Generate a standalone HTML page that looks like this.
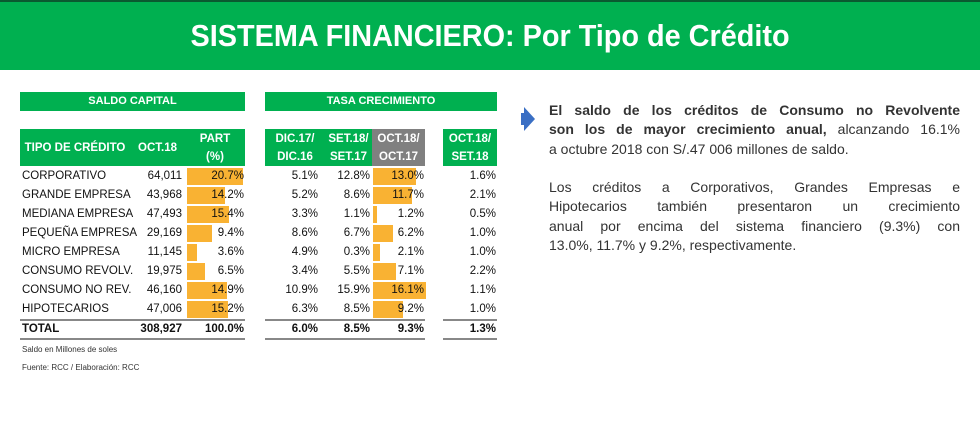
<!DOCTYPE html>
<html><head><meta charset="utf-8"><style>
body{margin:0;width:980px;height:448px;background:#fff;position:relative;overflow:hidden;font-family:"Liberation Sans",sans-serif;}
.abs{position:absolute;}
.g{background:#00b050;color:#fff;font-weight:bold;}
.cell{position:absolute;font-size:11.5px;color:#111;line-height:19px;white-space:nowrap;}
.r{text-align:right;}
.hd{position:absolute;font-size:11.5px;font-weight:bold;color:#fff;text-align:center;line-height:18px;white-space:nowrap;}
.bar{position:absolute;background:#f9b233;height:17px;}
.rule{position:absolute;height:2px;background:#888;}
.ln{position:absolute;left:549px;width:411px;font-size:14px;color:#333;line-height:19px;white-space:nowrap;text-align:justify;text-align-last:justify;}
.ln.last{text-align-last:left;}
</style></head><body>
<div class="abs" style="left:0;top:0;width:980px;height:2px;background:#0a5a30"></div>
<div class="abs g" style="left:0;top:2px;width:980px;height:68px;line-height:68px;text-align:center;"><span style="display:inline-block;font-size:31px;transform:scaleX(0.93);">SISTEMA FINANCIERO: Por Tipo de Crédito</span></div>

<div class="abs g" style="left:20px;top:92px;width:225px;height:19px;font-size:11px;line-height:19px;text-align:center;">SALDO CAPITAL</div>
<div class="abs g" style="left:20px;top:129px;width:225px;height:37px;"></div>
<div class="hd" style="left:20px;top:139px;width:110px;">TIPO DE CRÉDITO</div>
<div class="hd" style="left:130px;top:139px;width:55px;">OCT.18</div>
<div class="hd" style="left:190px;top:130px;width:50px;">PART<br>(%)</div>

<div class="abs g" style="left:265px;top:92px;width:232px;height:19px;font-size:11px;line-height:19px;text-align:center;">TASA CRECIMIENTO</div>
<div class="abs g" style="left:265px;top:129px;width:107px;height:37px;"></div>
<div class="abs" style="left:372px;top:129px;width:53px;height:37px;background:#808080;"></div>
<div class="abs g" style="left:443px;top:129px;width:54px;height:37px;"></div>
<div class="hd" style="left:265px;top:130px;width:60px;">DIC.17/<br>DIC.16</div>
<div class="hd" style="left:325px;top:130px;width:47px;">SET.18/<br>SET.17</div>
<div class="hd" style="left:372px;top:130px;width:53px;">OCT.18/<br>OCT.17</div>
<div class="hd" style="left:443px;top:130px;width:54px;">OCT.18/<br>SET.18</div>

<div id="rows"></div>

<div class="rule" style="left:20px;top:319px;width:225px;"></div>
<div class="rule" style="left:20px;top:338px;width:225px;"></div>
<div class="rule" style="left:265px;top:319px;width:160px;"></div>
<div class="rule" style="left:265px;top:338px;width:160px;"></div>
<div class="rule" style="left:443px;top:319px;width:54px;"></div>
<div class="rule" style="left:443px;top:338px;width:54px;"></div>

<div class="cell" style="left:22px;top:320px;font-weight:bold;">TOTAL</div>
<div class="cell r" style="left:120px;width:62px;top:320px;font-weight:bold;">308,927</div>
<div class="cell r" style="left:190px;width:54px;top:320px;font-weight:bold;">100.0%</div>
<div class="cell r" style="left:265px;width:53px;top:320px;font-weight:bold;">6.0%</div>
<div class="cell r" style="left:325px;width:45px;top:320px;font-weight:bold;">8.5%</div>
<div class="cell r" style="left:372px;width:52px;top:320px;font-weight:bold;">9.3%</div>
<div class="cell r" style="left:443px;width:53px;top:320px;font-weight:bold;">1.3%</div>

<div class="abs" style="left:22px;top:345px;font-size:8px;color:#333;">Saldo en Millones de soles</div>
<div class="abs" style="left:22px;top:363px;font-size:8px;color:#333;">Fuente: RCC / Elaboración: RCC</div>

<svg class="abs" style="left:521px;top:107px" width="16" height="24"><path d="M3,0 L3,6 L0,6 L0,18 L3,18 L3,24 L14,12 Z" fill="#3a6fc4"/></svg>
<div>
<div class="ln" style="top:101px;font-weight:bold;">El saldo de los créditos de Consumo no Revolvente</div>
<div class="ln" style="top:120px;"><b>son los de mayor crecimiento anual,</b> alcanzando 16.1%</div>
<div class="ln last" style="top:140px;">a octubre 2018 con S/.47 006 millones de saldo.</div>
</div>
<div>
<div class="ln" style="top:178px;">Los créditos a Corporativos, Grandes Empresas e</div>
<div class="ln" style="top:197px;">Hipotecarios también presentaron un crecimiento</div>
<div class="ln" style="top:217px;">anual por encima del sistema financiero (9.3%) con</div>
<div class="ln last" style="top:236px;">13.0%, 11.7% y 9.2%, respectivamente.</div>
</div>

<script>
const categories=["CORPORATIVO","GRANDE EMPRESA","MEDIANA EMPRESA","PEQUEÑA  EMPRESA","MICRO  EMPRESA","CONSUMO REVOLV.","CONSUMO NO REV.","HIPOTECARIOS"];
const saldoLabels=["64,011","43,968","47,493","29,169","11,145","19,975","46,160","47,006"];
const part=[20.7,14.2,15.4,9.4,3.6,6.5,14.9,15.2];
const dic=[5.1,5.2,3.3,8.6,4.9,3.4,10.9,6.3];
const setv=[12.8,8.6,1.1,6.7,0.3,5.5,15.9,8.5];
const octOct=[13.0,11.7,1.2,6.2,2.1,7.1,16.1,9.2];
const octSet=[1.6,2.1,0.5,1.0,1.0,2.2,1.1,1.0];
const partScale=v=>v*56/20.7;
const growthScale=v=>v*53/16.1;
const host=document.getElementById('rows');
function cell(txt,left,w,top,right,name){
  const d=document.createElement('div');
  d.className='cell'+(right?' r':'');
  d.style.left=left+'px';d.style.top=top+'px';
  if(w)d.style.width=w+'px';
  d.textContent=txt;
  
  
  host.appendChild(d);
}
function bar(left,w,top,name){
  const b=document.createElement('div');
  b.className='bar';
  b.style.left=left+'px';b.style.top=top+'px';b.style.width=w+'px';
  
  
  host.appendChild(b);
}
categories.forEach((c,i)=>{
  const y=167+i*19;
  bar(187,partScale(part[i]),y+1,'part-bar-'+i);
  bar(373,growthScale(octOct[i]),y+1,'growth-bar-'+i);
  cell(c,22,0,y,false,'row-label-'+i);
  cell(saldoLabels[i],120,62,y,true,'saldo-value-'+i);
  cell(part[i].toFixed(1)+'%',190,54,y,true,'part-value-'+i);
  cell(dic[i].toFixed(1)+'%',265,53,y,true,'dic-value-'+i);
  cell(setv[i].toFixed(1)+'%',325,45,y,true,'set-value-'+i);
  cell(octOct[i].toFixed(1)+'%',372,52,y,true,'oct-oct-value-'+i);
  cell(octSet[i].toFixed(1)+'%',443,53,y,true,'oct-set-value-'+i);
});
</script>
</body></html>
